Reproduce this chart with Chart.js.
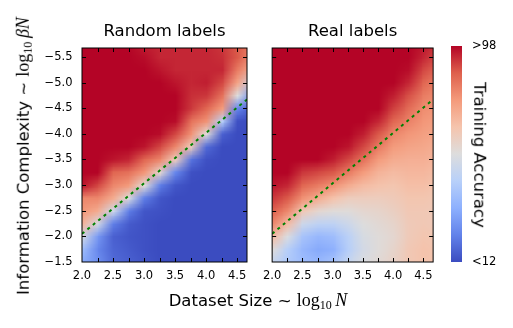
<!DOCTYPE html>
<html>
<head>
<meta charset="utf-8">
<script src="https://cdn.jsdelivr.net/npm/chart.js@4"></script>
<style>
  body { margin: 0; background: #fff; }
  #fig { position: relative; width: 513px; height: 328px; font-family: "DejaVu Sans", sans-serif; color: #000; overflow: hidden; }
  canvas { position: absolute; top: 0; }
  .lab { position: absolute; white-space: nowrap; font-size: 16.5px; line-height: 1; }
  .m { font-family: "Liberation Serif", serif; font-size: 18px; }
  .m sub { font-size: 12px; line-height: 0; vertical-align: -3px; }
</style>
</head>
<body>
<div id="fig">
  <canvas id="randomChart" width="256" height="328" style="left:0"></canvas>
  <canvas id="realChart" width="184" height="328" style="left:256px"></canvas>
  <canvas id="cbar" width="73" height="328" style="left:440px"></canvas>
  <div class="lab" style="left:23px;top:156px;transform:translate(-50%,-50%) rotate(-90deg)">Information Complexity ~ <span class="m">log<sub>10</sub>&thinsp;<i>βN</i></span></div>
  <div class="lab" style="left:258px;top:300px;transform:translate(-50%,-50%)">Dataset Size ~ <span class="m">log<sub>10</sub>&thinsp;<i>N</i></span></div>
  <div class="lab" style="left:479px;top:155px;transform:translate(-50%,-50%) rotate(90deg)">Training Accuracy</div>
</div>
<script>
// grid nodes (log10 N across, log10 beta*N down, top row first)
const xNodes = [2.0, 2.25, 2.5, 2.75, 3.0, 3.25, 3.5, 3.75, 4.0, 4.25, 4.5, 4.75];
const yNodes = [-5.75, -5.5, -5.25, -5.0, -4.75, -4.5, -4.25, -4.0, -3.75, -3.5, -3.25, -3.0,
                -2.75, -2.5, -2.25, -2.0, -1.75, -1.5];

// training accuracy (%)
const randomAcc = [
  [98, 98, 98, 98, 95, 94, 94, 94, 94, 92, 88, 82],
  [98, 98, 98, 98, 97, 94, 94, 94, 94, 93, 88, 78],
  [98, 98, 98, 98, 98, 96, 94, 94, 94, 94, 82, 70],
  [98, 98, 98, 98, 98, 98, 96, 94, 95, 90, 74, 48],
  [98, 98, 98, 98, 98, 98, 98, 93, 92, 84, 55, 24],
  [98, 98, 98, 98, 98, 98, 98, 92, 86, 76, 24, 14],
  [98, 98, 98, 98, 98, 98, 97, 84, 78, 44, 13, 12],
  [98, 98, 98, 98, 98, 97, 90, 78, 56, 16, 12, 12],
  [98, 98, 98, 98, 96, 90, 80, 62, 18, 12, 12, 12],
  [98, 98, 96, 94, 86, 80, 62, 20, 13, 12, 12, 12],
  [98, 98, 86, 84, 77, 58, 24, 13, 12, 12, 12, 12],
  [96, 90, 80, 76, 56, 22, 14, 12, 12, 12, 12, 12],
  [80, 80, 72, 54, 22, 14, 12, 12, 12, 12, 12, 12],
  [77, 72, 50, 22, 14, 13, 12, 12, 12, 12, 12, 12],
  [70, 52, 22, 15, 13, 12, 12, 12, 12, 12, 12, 12],
  [52, 28, 16, 14, 13, 12, 12, 12, 12, 12, 12, 12],
  [38, 24, 17, 15, 13, 12, 12, 12, 12, 12, 12, 12],
  [32, 26, 18, 16, 14, 12, 12, 12, 12, 12, 12, 12]
];
const realAcc = [
  [98, 98, 98, 98, 98, 98, 98, 98, 98, 98, 96, 92],
  [98, 98, 98, 98, 98, 98, 98, 98, 98, 98, 94, 89],
  [98, 98, 98, 98, 98, 98, 98, 98, 98, 97, 90, 85],
  [98, 98, 98, 98, 98, 98, 98, 98, 98, 94, 86, 81],
  [98, 98, 98, 98, 98, 98, 98, 98, 95, 89, 82, 79],
  [98, 98, 98, 98, 98, 98, 98, 98, 91, 85, 79, 77],
  [98, 98, 98, 98, 98, 98, 98, 94, 86, 81, 77, 75],
  [98, 98, 98, 98, 98, 98, 95, 88, 80, 77, 75, 73],
  [98, 98, 98, 98, 98, 96, 90, 82, 76, 74, 73, 71],
  [98, 98, 98, 98, 95, 90, 84, 76, 72, 71, 71, 69],
  [98, 98, 92, 90, 88, 82, 76, 70, 68, 69, 69, 67],
  [96, 94, 86, 82, 78, 72, 68, 66, 65, 67, 67, 65],
  [92, 88, 78, 72, 66, 62, 62, 62, 63, 65, 65, 64],
  [87, 80, 64, 58, 56, 56, 58, 59, 61, 64, 64, 63],
  [80, 68, 50, 46, 46, 50, 55, 57, 59, 63, 64, 63],
  [68, 54, 40, 36, 38, 45, 53, 56, 58, 63, 65, 64],
  [56, 44, 36, 32, 34, 44, 52, 56, 59, 64, 66, 65],
  [48, 42, 38, 36, 40, 48, 54, 57, 60, 64, 66, 65]
];

// green dashed reference line
const lineX = [2.0, 4.66];
const lineY = [-2.05, -4.67];

// axis ranges and tick marks
const xMin = 2.0, xMax = 4.66;
const yMin = -5.675, yMax = -1.5;
const xTickMarks = [2.25, 2.5, 2.75, 3.0, 3.25, 3.5, 3.75, 4.0, 4.25, 4.5];
const yTickMarks = [-5.5, -5.0, -4.5, -4.0, -3.5, -3.0, -2.5, -2.0];
const accMin = 12, accMax = 98;

// coolwarm colormap stops
const cmap = [[59,76,192],[98,130,234],[141,176,254],[184,208,249],[221,221,221],
              [245,196,173],[244,154,123],[222,96,77],[180,4,38]];

function coolwarm(t) {
  t = Math.min(1, Math.max(0, t)) * (cmap.length - 1);
  const i = Math.min(cmap.length - 2, Math.floor(t)), f = t - i;
  return cmap[i].map((c, k) => Math.round(c + (cmap[i + 1][k] - c) * f));
}

const heatPlugin = {
  id: 'heat',
  beforeDatasetsDraw(chart, args, opts) {
    if (!opts.values) return;
    const { ctx, chartArea: a, scales: { x, y } } = chart;
    const off = document.createElement('canvas');
    off.width = xNodes.length;
    off.height = yNodes.length;
    const octx = off.getContext('2d');
    const img = octx.createImageData(off.width, off.height);
    opts.values.forEach((row, j) => row.forEach((v, i) => {
      const c = coolwarm((v - accMin) / (accMax - accMin));
      const k = (j * off.width + i) * 4;
      img.data[k] = c[0]; img.data[k + 1] = c[1]; img.data[k + 2] = c[2]; img.data[k + 3] = 255;
    }));
    octx.putImageData(img, 0, 0);
    const dx = (xNodes[1] - xNodes[0]) / 2, dy = (yNodes[1] - yNodes[0]) / 2;
    const left = x.getPixelForValue(xNodes[0] - dx);
    const right = x.getPixelForValue(xNodes[xNodes.length - 1] + dx);
    const top = y.getPixelForValue(yNodes[0] - dy);
    const bottom = y.getPixelForValue(yNodes[yNodes.length - 1] + dy);
    ctx.save();
    ctx.beginPath();
    ctx.rect(a.left, a.top, a.right - a.left, a.bottom - a.top);
    ctx.clip();
    ctx.imageSmoothingEnabled = true;
    ctx.imageSmoothingQuality = 'low';
    ctx.drawImage(off, left, top, right - left, bottom - top);
    ctx.restore();
  },
  afterDraw(chart, args, opts) {
    if (!opts.values) return;
    const { ctx, chartArea: a, scales: { x, y } } = chart;
    ctx.save();
    ctx.strokeStyle = '#000';
    ctx.lineWidth = 1;
    ctx.beginPath();
    xTickMarks.forEach(v => {
      const px = Math.round(x.getPixelForValue(v)) + 0.5;
      ctx.moveTo(px, a.top); ctx.lineTo(px, a.top + 4);
      ctx.moveTo(px, a.bottom); ctx.lineTo(px, a.bottom - 4);
    });
    yTickMarks.forEach(v => {
      const py = Math.round(y.getPixelForValue(v)) + 0.5;
      ctx.moveTo(a.left, py); ctx.lineTo(a.left + 4, py);
      ctx.moveTo(a.right, py); ctx.lineTo(a.right - 4, py);
    });
    ctx.stroke();
    ctx.strokeRect(a.left, a.top, a.right - a.left, a.bottom - a.top);
    ctx.restore();
  }
};

const tickFont = { family: 'DejaVu Sans', size: 11.5 };
const fmt = v => (v < 0 ? '\u2212' : '') + Math.abs(v).toFixed(1);

function panel(id, title, values, showY, pad) {
  return new Chart(document.getElementById(id), {
    type: 'scatter',
    data: {
      datasets: [{
        data: lineX.map((x, i) => ({ x: x, y: lineY[i] })),
        showLine: true,
        borderColor: '#008000',
        borderWidth: 2,
        borderDash: [3, 4],
        pointRadius: 0
      }]
    },
    options: {
      responsive: false,
      animation: false,
      events: [],
      layout: { padding: pad },
      plugins: {
        legend: { display: false },
        tooltip: { enabled: false },
        title: {
          display: true, text: title, color: '#000', fullSize: false,
          font: { family: 'DejaVu Sans', size: 16.5, weight: 'normal', lineHeight: 1.2 },
          padding: { top: 22, bottom: 6.2 }
        },
        heat: { values: values }
      },
      scales: {
        x: {
          type: 'linear', min: xMin, max: xMax,
          grid: { display: false, drawTicks: false },
          border: { display: false },
          ticks: { stepSize: 0.5, includeBounds: false, padding: 7, color: '#000', font: tickFont, callback: fmt, maxRotation: 0 },
          afterFit: s => { s.height = 66; }
        },
        y: {
          type: 'linear', min: yMin, max: yMax, reverse: true, display: showY,
          grid: { display: false, drawTicks: false },
          border: { display: false },
          ticks: { stepSize: 0.5, includeBounds: false, padding: 9.5, color: '#000', font: tickFont, callback: fmt },
          afterFit: s => { s.width = showY ? 82 : 0; }
        }
      }
    },
    plugins: [heatPlugin]
  });
}

panel('randomChart', 'Random labels', randomAcc, true, { left: 0, right: 9, top: 0, bottom: 0 });
panel('realChart', 'Real labels', realAcc, false, { left: 13, right: 6, top: 0, bottom: 0 });

// colorbar
new Chart(document.getElementById('cbar'), {
  type: 'bar',
  data: {
    labels: ['acc'],
    datasets: [{
      data: [[accMin, accMax]],
      barPercentage: 1,
      categoryPercentage: 1,
      borderWidth: 0,
      backgroundColor: c => {
        const a = c.chart.chartArea;
        if (!a) return '#ddd';
        const g = c.chart.ctx.createLinearGradient(0, a.bottom, 0, a.top);
        cmap.forEach((col, i) => g.addColorStop(i / (cmap.length - 1), `rgb(${col.join(',')})`));
        return g;
      }
    }]
  },
  options: {
    responsive: false,
    animation: false,
    events: [],
    layout: { padding: { left: 11, right: 0, top: 46, bottom: 66 } },
    plugins: { legend: { display: false }, tooltip: { enabled: false } },
    scales: {
      x: { display: false },
      y: {
        position: 'right', min: accMin, max: accMax,
        grid: { display: false, drawTicks: false },
        border: { display: false },
        afterBuildTicks: s => { s.ticks = [{ value: accMin }, { value: accMax }]; },
        ticks: { padding: 10, color: '#000', font: tickFont, callback: v => (v === accMax ? '>' : '<') + v },
        afterFit: s => { s.width = 51; }
      }
    }
  }
});
</script>
</body>
</html>
